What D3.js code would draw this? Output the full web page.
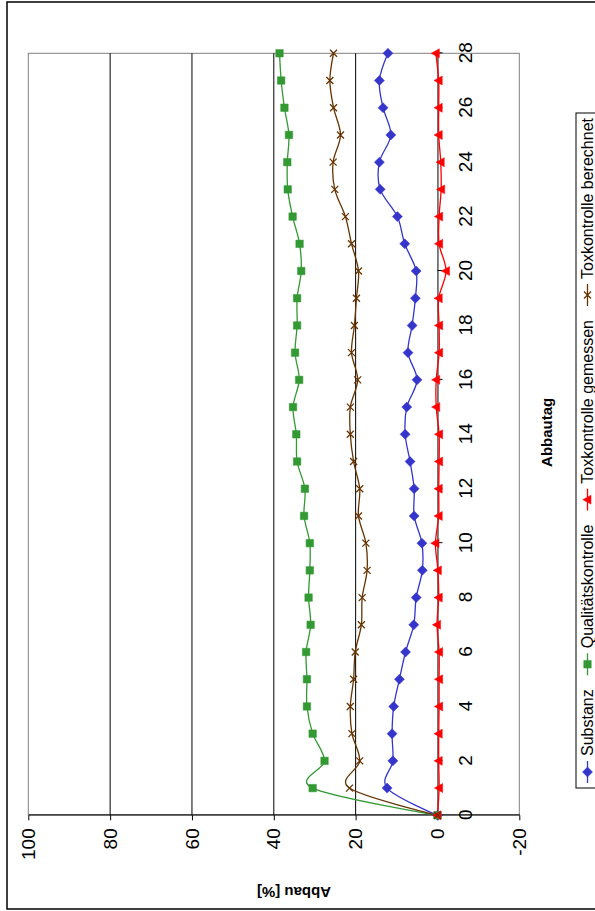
<!DOCTYPE html>
<html><head><meta charset="utf-8">
<script src="https://cdn.jsdelivr.net/npm/d3@7"></script>
<style>
body{margin:0;background:#fff}
svg text{font-family:"Liberation Sans",Arial,Helvetica,sans-serif;fill:#000}
</style>
</head><body><script>
// ---- data ----
const days = [0,1,2,3,4,5,6,7,8,9,10,11,12,13,14,15,16,17,18,19,20,21,22,23,24,25,26,27,28];
const substanz    = [0,12.3,10.9,11.1,10.7,9.3,7.8,5.8,5.2,3.7,3.8,5.7,5.7,6.7,7.9,7.5,5.0,7.2,6.2,5.4,5.2,8.0,9.8,14.0,14.2,11.4,13.3,14.2,12.1];
const qualitaet   = [0,30.5,27.6,30.5,31.9,31.9,32.1,31.0,31.5,31.2,31.2,32.6,32.4,34.3,34.5,35.3,33.8,34.8,34.3,34.3,33.3,33.7,35.4,36.6,36.7,36.3,37.4,38.2,38.6];
const toxGemessen = [0,-0.4,-0.3,-0.3,-0.4,-0.4,-0.4,0.1,-0.3,-0.1,0.5,-0.3,-0.3,-0.4,-0.4,0.3,0.3,-0.4,-0.4,-0.3,-2.1,-0.4,-0.4,-0.9,-0.8,-0.3,-0.3,-0.3,0.4];
const toxBerechnet= [0,21.5,19.0,20.9,21.3,20.5,20.1,18.6,18.4,17.2,17.5,19.3,19.0,20.5,21.3,21.3,19.5,21.0,20.3,19.8,19.3,21.0,22.5,25.1,25.5,23.7,25.4,26.3,25.4];
const seriesNames = ["Substanz","Qualitätskontrolle","Toxkontrolle gemessen","Toxkontrolle berechnet"];
const dayTicks = [0,2,4,6,8,10,12,14,16,18,20,22,24,26,28];
const valueTicks = [-20,0,20,40,60,80,100];
const gridValues = [20,40,60,80];
const xTitle = "Abbautag";
const yTitle = "Abbau [%]";

// ---- symbols ----
const symDiamond = {draw(c,s){const r=Math.sqrt(s)/1.6; c.moveTo(0,-r);c.lineTo(r,0);c.lineTo(0,r);c.lineTo(-r,0);c.closePath();}};
const symSquare  = {draw(c,s){const r=Math.sqrt(s)/2; c.rect(-r,-r,2*r,2*r);}};
const symTri     = {draw(c,s){const r=Math.sqrt(s)/1.7; c.moveTo(0,-r);c.lineTo(r*0.95,r*0.75);c.lineTo(-r*0.95,r*0.75);c.closePath();}};
const symX       = {draw(c,s){const r=Math.sqrt(s)/2; c.moveTo(-r,-r);c.lineTo(r,r);c.moveTo(r,-r);c.lineTo(-r,r);}};

const series = [
  {name:seriesNames[0], values:substanz,    color:"#3535cc", sym:symDiamond, size:64, fill:true},
  {name:seriesNames[1], values:qualitaet,   color:"#339933", sym:symSquare,  size:56, fill:true},
  {name:seriesNames[2], values:toxGemessen, color:"#ff0000", sym:symTri,     size:64, fill:true},
  {name:seriesNames[3], values:toxBerechnet,color:"#663300", sym:symX,       size:49, fill:false}
];

// ---- layout (drawn in landscape, then rotated) ----
const svg = d3.select("body").append("svg").attr("width",595).attr("height",911);
svg.append("rect").attr("width",595).attr("height",911).attr("fill","#fff");
const g = svg.append("g").attr("transform","translate(0,911) rotate(-90)");

const x = d3.scaleLinear().domain([0,28]).range([95.7,857.7]);
const y = d3.scaleLinear().domain([-20,100]).range([519.3,28.3]);

// chart area border
g.append("rect").attr("x",2).attr("y",7).attr("width",907).attr("height",600)
  .attr("fill","none").attr("stroke","#000").attr("stroke-width",1.5);

// plot area
g.append("rect").attr("x",x(0)).attr("y",y(100)).attr("width",x(28)-x(0)).attr("height",y(-20)-y(100))
  .attr("fill","#fff").attr("stroke","#808080").attr("stroke-width",1);

// gridlines
g.append("g").selectAll("line").data(gridValues).join("line")
  .attr("x1",x(0)).attr("x2",x(28)).attr("y1",d=>y(d)).attr("y2",d=>y(d))
  .attr("stroke","#000").attr("stroke-width",1);

// value axis (left in landscape)
const ya = g.append("g").attr("transform",`translate(${x(0)},0)`)
  .call(d3.axisLeft(y).tickValues(valueTicks).tickSize(5).tickSizeOuter(0).tickPadding(8).tickFormat(d=>String(d)));
ya.selectAll("text").style("font-size","19px");
ya.selectAll("line,path").attr("stroke","#000");

// day axis at value 0
const xa = g.append("g").attr("transform",`translate(0,${y(0)})`)
  .call(d3.axisBottom(x).tickValues(dayTicks).tickSize(5).tickSizeOuter(0).tickPadding(16).tickFormat(d=>String(d)));
xa.selectAll("text").style("font-size","19px");
xa.selectAll("line,path").attr("stroke","#000");

// lines and markers
const line = d3.line().x((d,i)=>x(days[i])).y(d=>y(d)).curve(d3.curveCardinal.tension(0));
series.forEach(s=>{
  g.append("path").attr("d",line(s.values)).attr("fill","none").attr("stroke",s.color).attr("stroke-width",1.3);
});
series.forEach(s=>{
  g.append("g").selectAll("path").data(s.values).join("path")
    .attr("transform",(d,i)=>`translate(${x(days[i])},${y(d)})`)
    .attr("d",d3.symbol().type(s.sym).size(s.size))
    .attr("fill",s.fill?s.color:"none").attr("stroke",s.color).attr("stroke-width",s.fill?0.5:1.3);
});

// axis titles
g.append("text").attr("x",(x(0)+x(28))/2+2).attr("y",552).attr("text-anchor","middle")
  .style("font-size","15px").style("font-weight","bold").text(xTitle);
g.append("text").attr("transform","translate(24,294) rotate(-90)").attr("text-anchor","middle")
  .style("font-size","15px").style("font-weight","bold").text(yTitle);

// legend
const leg = g.append("g");
leg.append("rect").attr("x",123).attr("y",576).attr("width",675).attr("height",24)
  .attr("fill","#fff").attr("stroke","#000").attr("stroke-width",1);
const keyLen=22, gap1=5, gap2=14;
const items = leg.selectAll("g.item").data(series).join("g").attr("class","item");
items.append("text").attr("y",593).style("font-size","16px").text(d=>d.name);
let widths = [];
items.select("text").each(function(){widths.push(this.getComputedTextLength());});
const total = d3.sum(widths) + series.length*(keyLen+gap1) + (series.length-1)*gap2;
let cx = 460.5 - total/2;
items.each(function(d,i){
  const it = d3.select(this);
  it.append("line").attr("x1",cx).attr("x2",cx+keyLen).attr("y1",587.5).attr("y2",587.5)
    .attr("stroke",d.color).attr("stroke-width",1.3);
  it.append("path").attr("transform",`translate(${cx+keyLen/2},587.5)`)
    .attr("d",d3.symbol().type(d.sym).size(d.size))
    .attr("fill",d.fill?d.color:"none").attr("stroke",d.color).attr("stroke-width",d.fill?0.5:1.3);
  it.select("text").attr("x",cx+keyLen+gap1);
  cx += keyLen+gap1+widths[i]+gap2;
});
</script></body></html>
